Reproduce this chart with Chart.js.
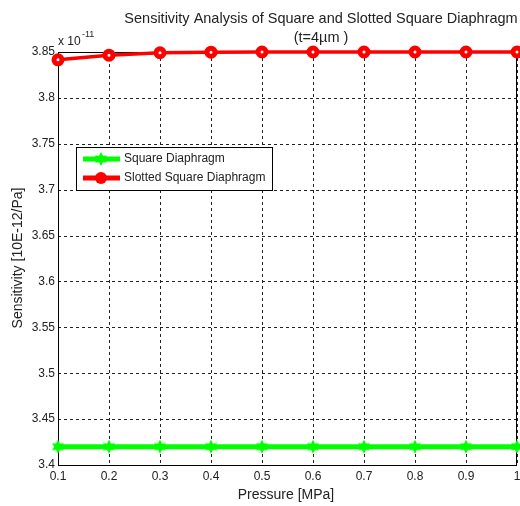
<!DOCTYPE html>
<html><head><meta charset="utf-8">
<script src="https://cdn.jsdelivr.net/npm/chart.js@4/dist/chart.umd.min.js"></script>
<style>html,body{margin:0;padding:0;background:#fff}#wrap{width:520px;height:506px;position:relative}</style>
</head><body><div id="wrap"><canvas id="c" width="520" height="506"></canvas></div>
<script>
const pressure = [0.1,0.2,0.3,0.4,0.5,0.6,0.7,0.8,0.9,1.0];
const squareSens = [3.42,3.42,3.42,3.42,3.42,3.42,3.42,3.42,3.42,3.42];
const slottedSens = [3.8415,3.8465,3.8492,3.8498,3.85,3.85,3.85,3.85,3.85,3.85];
const yTicks = [3.4,3.45,3.5,3.55,3.6,3.65,3.7,3.75,3.8,3.85];
const seriesNames = ['Square Diaphragm','Slotted Square Diaphragm'];
const titleLines = ['Sensitivity Analysis of Square and Slotted Square Diaphragm','(t=4\u00b5m )'];
const xTitle = 'Pressure [MPa]';
const yTitle = 'Sensitivity [10E-12/Pa]';
const FONT = '"Liberation Sans", Arial, sans-serif';

function starImg(color, r){
  const c = document.createElement('canvas');
  const s = Math.ceil(r*2+4); c.width = s; c.height = s;
  const g = c.getContext('2d'); const cx = s/2, cy = s/2;
  g.fillStyle = color; g.beginPath();
  for(let i=0;i<12;i++){
    const a = -Math.PI/2 + i*Math.PI/6;
    const rr = i%2===0 ? r : r*0.55;
    const x = cx + rr*Math.cos(a), y = cy + rr*Math.sin(a);
    i===0 ? g.moveTo(x,y) : g.lineTo(x,y);
  }
  g.closePath(); g.fill();
  return c;
}
const greenStar = starImg('#00ff00', 7);

const extras = {
  id:'extras',
  beforeDatasetsDraw(chart){
    const ctx = chart.ctx, a = chart.chartArea;
    const xs = chart.scales.x, ys = chart.scales.y;
    ctx.save();
    ctx.strokeStyle = '#222'; ctx.lineWidth = 1; ctx.setLineDash([3,3]);
    xs.ticks.forEach(t=>{
      const px = Math.round(xs.getPixelForValue(t.value))+0.5;
      ctx.beginPath(); ctx.moveTo(px, a.top); ctx.lineTo(px, a.bottom); ctx.stroke();
    });
    ys.ticks.forEach(t=>{
      const py = Math.round(ys.getPixelForValue(t.value))+0.5;
      ctx.beginPath(); ctx.moveTo(a.left, py); ctx.lineTo(a.right, py); ctx.stroke();
    });
    ctx.setLineDash([]);
    ctx.strokeStyle = '#000';
    ctx.strokeRect(a.left+0.5, a.top+0.5, a.right-a.left-1, a.bottom-a.top);
    ctx.restore();
  },
  afterDraw(chart){
    const ctx = chart.ctx;
    ctx.save();
    ctx.fillStyle = '#222'; ctx.textAlign='center'; ctx.textBaseline='middle';
    ctx.font = '14.5px '+FONT;
    ctx.fillText(titleLines[0], 321, 19);
    ctx.fillText(titleLines[1], 321, 38);
    ctx.font = '14px '+FONT;
    ctx.fillText(xTitle, 286, 495);
    ctx.save(); ctx.translate(18, 258); ctx.rotate(-Math.PI/2);
    ctx.fillText(yTitle, 0, 0); ctx.restore();
    ctx.textAlign='left'; ctx.font='12px '+FONT;
    ctx.fillText('x 10', 58, 42);
    ctx.font='9px '+FONT; ctx.fillText('-11', 82, 35);
    // legend
    const lx=76, ly=147, lw=196, lh=43;
    ctx.fillStyle='#fff'; ctx.fillRect(lx,ly,lw,lh);
    ctx.strokeStyle='#000'; ctx.lineWidth=1; ctx.strokeRect(lx+0.5,ly+0.5,lw,lh);
    const rows=[159,178];
    const ds = chart.data.datasets;
    rows.forEach((y,i)=>{
      ctx.strokeStyle = ds[i].borderColor; ctx.lineWidth = 5;
      ctx.beginPath(); ctx.moveTo(83,y); ctx.lineTo(120,y); ctx.stroke();
      if(i===0){ ctx.drawImage(greenStar, 101-greenStar.width/2, y-greenStar.height/2); }
      else { ctx.fillStyle='#ff0000'; ctx.beginPath(); ctx.arc(101,y,6,0,Math.PI*2); ctx.fill(); }
      ctx.fillStyle='#222'; ctx.font='12px '+FONT; ctx.textAlign='left'; ctx.textBaseline='middle';
      ctx.fillText(ds[i].label, 124, y);
    });
    ctx.restore();
  }
};

new Chart(document.getElementById('c'), {
  type:'line',
  data:{
    datasets:[
      {label:seriesNames[0], data:pressure.map((x,i)=>({x, y:squareSens[i]})),
       borderColor:'#00ff00', backgroundColor:'#00ff00', borderWidth:5,
       pointStyle:greenStar, pointRadius:7, clip:false},
      {label:seriesNames[1], data:pressure.map((x,i)=>({x, y:slottedSens[i]})),
       borderColor:'#ff0000', backgroundColor:'#ff0000', borderWidth:3.5,
       pointStyle:'circle', pointRadius:4, pointBorderWidth:5, pointBackgroundColor:'#ffffff', clip:false}
    ]
  },
  options:{
    responsive:false, animation:false, devicePixelRatio:1,
    layout:{autoPadding:false, padding:{top:52,right:3,left:0,bottom:0}},
    plugins:{legend:{display:false}, tooltip:{enabled:false}},
    scales:{
      x:{type:'linear', min:0.1, max:1.0,
        afterFit(s){ s.height = 41; s.paddingLeft = 0; s.paddingRight = 0; },
        afterBuildTicks(s){ s.ticks = pressure.map(v=>({value:v})); },
        ticks:{color:'#222', font:{family:FONT,size:12}, padding:4, maxRotation:0,
          callback:v=> v===1 ? '1' : (+v).toFixed(1)},
        grid:{display:false, drawTicks:false},
        border:{display:false}
      },
      y:{type:'linear', min:3.4, max:3.85,
        afterFit(s){ s.width = 58; s.paddingTop = 0; s.paddingBottom = 0; },
        afterBuildTicks(s){ s.ticks = yTicks.map(v=>({value:v})); },
        ticks:{color:'#222', font:{family:FONT,size:12}, padding:3,
          callback:v=> String(+(+v).toFixed(2))},
        grid:{display:false, drawTicks:false},
        border:{display:false}
      }
    }
  },
  plugins:[extras]
});
</script></body></html>
